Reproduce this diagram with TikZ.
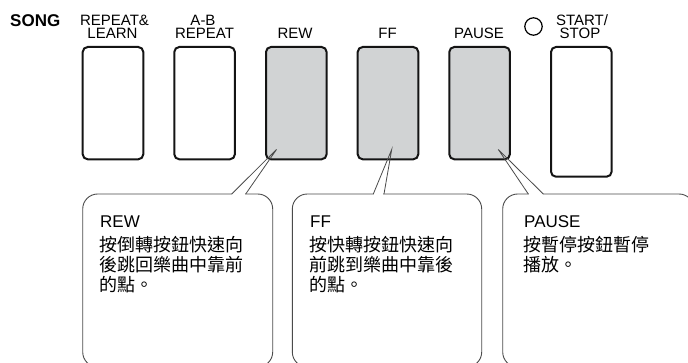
\documentclass[tikz,border=0pt]{standalone}
\usepackage{fontspec}
\setmainfont{Liberation Sans}
\newfontfamily\cjk{Noto Sans CJK TC}
\definecolor{btngray}{RGB}{209,211,212}
\definecolor{boxgray}{RGB}{75,75,75}
\begin{document}
\begin{tikzpicture}[x=1pt,y=-1pt,
  btn/.style={draw=black!92,line width=2pt,rounded corners=5pt,minimum width=60.6pt,inner sep=0pt,anchor=north west},
  lit/.style={btn,fill=btngray},
  lbl/.style={font=\fontsize{15}{14}\selectfont,anchor=base,inner sep=0pt,text height=10.8pt,text depth=0pt},
  boxline/.style={draw=boxgray,line width=0.9pt,rounded corners=15pt},
  ptr/.style={draw=boxgray,line width=0.8pt},
  ctitle/.style={font=\fontsize{17}{17}\selectfont,anchor=base west,inner sep=0pt},
  cbody/.style={font=\cjk\fontsize{18}{20}\selectfont,anchor=base west,inner sep=0pt},
]
\useasboundingbox (0,0) rectangle (688,363);
\clip (0,0) rectangle (688,363);

% top labels
\node[font=\bfseries\fontsize{17}{17}\selectfont,anchor=base west,inner sep=0pt] (song) at (10,27) {SONG};
\node[lbl] (l1a) at (114.5,26) {REPEAT\&};
\node[lbl] (l1b) at (112.5,39) {LEARN};
\node[lbl] (l2a) at (203,26) {A-B};
\node[lbl] (l2b) at (204.5,39) {REPEAT};
\node[lbl] (l3) at (295,39) {REW};
\node[lbl] (l4) at (387.5,39) {FF};
\node[lbl] (l5) at (479,39) {PAUSE};
\node[lbl] (l6a) at (582,26) {START/};
\node[lbl] (l6b) at (580,39) {STOP};
\draw[line width=1.2pt] (533.5,26.5) circle[radius=8.7pt];

% buttons
\node[btn,minimum height=112.3pt] (brl) at (81.7,46) {};
\node[btn,minimum height=112.3pt] (bab) at (173.3,46) {};
\node[lit,minimum height=112.3pt] (brew) at (265,46) {};
\node[lit,minimum height=112.3pt] (bff) at (356.7,46) {};
\node[lit,minimum height=112.3pt] (bpause) at (448.3,46) {};
\node[btn,minimum height=129.7pt] (bss) at (550,46) {};

% pointer tips
\coordinate (trew) at (276.5,149.5);
\coordinate (tff) at (391.7,149.5);
\coordinate (tpause) at (498.3,149.5);

% callout boxes
\draw[boxline] (82.7,194) rectangle (272.7,367);
\draw[boxline] (292.3,194) rectangle (481.7,367);
\draw[boxline] (502.7,194) rectangle (694,367);

% gaps for pointers
\fill[white] (232.4,192) rectangle (245.0,196);
\fill[white] (374.0,192) rectangle (383.3,196);
\fill[white] (529.0,192) rectangle (542.6,196);

\coordinate (rewa) at (231.7,194);
\coordinate (rewb) at (245.7,194);
\coordinate (ffa) at (373.3,194);
\coordinate (ffb) at (384,194);
\coordinate (pa) at (528.3,194);
\coordinate (pb) at (543.3,194);
\draw[ptr,line join=miter] (rewa) -- (trew) -- (rewb);
\draw[ptr,line join=miter] (ffa) -- (tff) -- (ffb);
\draw[ptr,line join=miter] (pa) -- (tpause) -- (pb);

% callout texts
\node[ctitle] (rewt) at (100,227.3) {REW};
\node[cbody] (rew1) at (99,251.5) {按倒轉按鈕快速向};
\node[cbody] (rew2) at (99,271.8) {後跳回樂曲中靠前};
\node[cbody] (rew3) at (99,292) {的點。};

\node[ctitle] (fft) at (310,227.3) {FF};
\node[cbody] (ff1) at (309,251.5) {按快轉按鈕快速向};
\node[cbody] (ff2) at (309,271.8) {前跳到樂曲中靠後};
\node[cbody] (ff3) at (309,292) {的點。};

\node[ctitle] (pt) at (524,227.3) {PAUSE};
\node[cbody] (p1) at (523,251.5) {按暫停按鈕暫停};
\node[cbody] (p2) at (523,271.8) {播放。};
\end{tikzpicture}
\end{document}
